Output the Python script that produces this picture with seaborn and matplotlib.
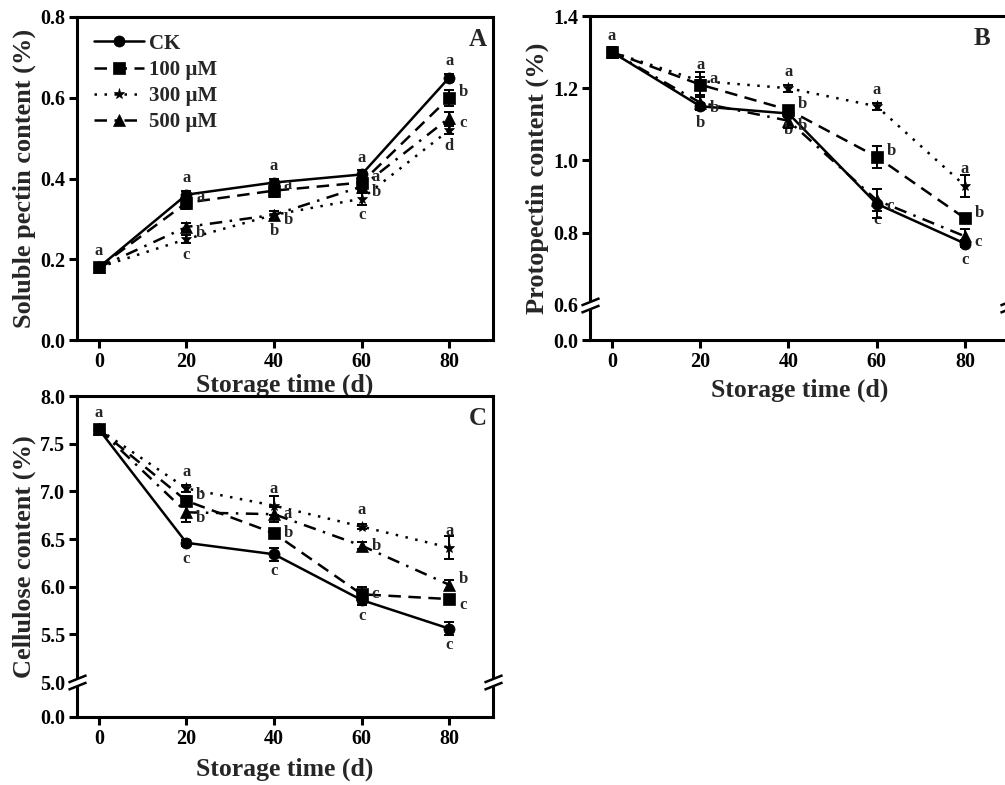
import numpy as np
import pandas as pd
import seaborn as sns
import matplotlib.pyplot as plt
from matplotlib.path import Path

# data (order: CK, 100, 300, 500 uM)
days = [0, 20, 40, 60, 80]
treatments = ['CK', '100 µM', '300 µM', '500 µM']

sol_mean = [[0.18, 0.36, 0.39, 0.41, 0.65],
            [0.18, 0.34, 0.37, 0.39, 0.60],
            [0.18, 0.25, 0.31, 0.35, 0.52],
            [0.18, 0.28, 0.31, 0.38, 0.55]]
sol_err = [[0.01, 0.01, 0.01, 0.01, 0.01],
           [0.01, 0.015, 0.015, 0.015, 0.02],
           [0.01, 0.01, 0.01, 0.015, 0.01],
           [0.01, 0.01, 0.01, 0.01, 0.015]]
sol_letters = [['a', 'a', 'a', 'a', 'a'],
               ['', 'a', 'a', 'a', 'b'],
               ['', 'c', 'b', 'c', 'd'],
               ['', 'b', 'b', 'b', 'c']]

pro_mean = [[1.30, 1.15, 1.13, 0.88, 0.77],
            [1.30, 1.21, 1.14, 1.01, 0.84],
            [1.30, 1.22, 1.20, 1.15, 0.93],
            [1.30, 1.16, 1.11, 0.89, 0.79]]
pro_err = [[0.015, 0.01, 0.01, 0.04, 0.01],
           [0.01, 0.035, 0.01, 0.03, 0.01],
           [0.01, 0.01, 0.01, 0.01, 0.03],
           [0.01, 0.02, 0.02, 0.03, 0.02]]
pro_letters = [['', 'b', 'b', 'c', 'c'],
               ['', 'a', 'b', 'b', 'b'],
               ['a', 'a', 'a', 'a', 'a'],
               ['', 'b', 'b', 'c', 'c']]

cel_mean = [[7.65, 6.46, 6.34, 5.86, 5.56],
            [7.65, 6.90, 6.56, 5.92, 5.87],
            [7.65, 7.03, 6.85, 6.63, 6.41],
            [7.65, 6.78, 6.76, 6.43, 6.02]]
cel_err = [[0.03, 0.03, 0.07, 0.05, 0.07],
           [0.03, 0.05, 0.04, 0.08, 0.03],
           [0.03, 0.04, 0.10, 0.03, 0.12],
           [0.03, 0.10, 0.08, 0.04, 0.05]]
cel_letters = [['', 'c', 'c', 'c', 'c'],
               ['', 'b', 'b', 'c', 'c'],
               ['a', 'a', 'a', 'a', 'a'],
               ['', 'b', 'a', 'b', 'b']]

sns.set_theme(style='ticks')
plt.rcParams['font.family'] = ['Liberation Serif', 'DejaVu Serif']
plt.rcParams['font.weight'] = 'bold'
plt.rcParams['axes.labelweight'] = 'bold'
plt.rcParams['axes.linewidth'] = 2.2
plt.rcParams['xtick.major.width'] = 2.2
plt.rcParams['ytick.major.width'] = 2.2
plt.rcParams['xtick.major.size'] = 5.5
plt.rcParams['ytick.major.size'] = 5.5
plt.rcParams['xtick.labelsize'] = 14.5
plt.rcParams['ytick.labelsize'] = 14.5
plt.rcParams['axes.edgecolor'] = 'black'
plt.rcParams['xtick.color'] = 'black'
plt.rcParams['ytick.color'] = 'black'

markers = {'CK': 'o', '100 µM': 's', '300 µM': '*', '500 µM': '^'}
dashes = {'CK': '', '100 µM': (5, 3), '300 µM': (1, 3), '500 µM': (5, 3, 1, 3)}
W, H = 1005, 785


def long_df(means):
    rows = []
    for t, vals in zip(treatments, means):
        for d, v in zip(days, vals):
            rows.append({'day': d, 'value': v, 'treatment': t})
    return pd.DataFrame(rows)


def broken_scale(ax, brk, gap):
    k = gap / brk
    fwd = lambda y: np.where(y >= brk, y, brk - (brk - y) * k)
    inv = lambda u: np.where(u >= brk, u, brk - (brk - u) / k)
    ax.set_yscale('function', functions=(fwd, inv))


def break_marks(ax, brk, xs=(0, 1)):
    fill = Path([(-1, -0.8), (1, 0.0), (1, 0.8), (-1, 0.0), (-1, -0.8)],
                [Path.MOVETO, Path.LINETO, Path.LINETO, Path.LINETO, Path.CLOSEPOLY])
    lines = Path([(-1, -0.8), (1, 0.0), (-1, 0.0), (1, 0.8)],
                 [Path.MOVETO, Path.LINETO, Path.MOVETO, Path.LINETO])
    tr = ax.get_yaxis_transform()
    for x in xs:
        ax.plot([x], [brk], marker=fill, ms=13, mfc='white', mec='none',
                transform=tr, clip_on=False, zorder=10)
        ax.plot([x], [brk], marker=lines, ms=13, mfc='none', mec='black',
                mew=1.8, transform=tr, clip_on=False, zorder=11)


def panel(rect, means, errs, letters, place, ylabel, tag, xpad, show_legend=False):
    ax = fig.add_axes([rect[0] / W, 1 - rect[3] / H, (rect[2] - rect[0]) / W,
                       (rect[3] - rect[1]) / H])
    sns.lineplot(data=long_df(means), x='day', y='value', hue='treatment',
                 style='treatment', palette=['black'] * 4, markers=markers,
                 dashes=dashes, lw=1.8, markersize=8, markeredgecolor='black',
                 markeredgewidth=0.5, legend=show_legend, ax=ax)
    for m, e in zip(means, errs):
        ax.errorbar(days, m, yerr=e, fmt='none', ecolor='black',
                    elinewidth=1.4, capsize=3.5, capthick=1.4, zorder=5)
    offs = {'up': ((0, 6), 'center', 'bottom'),
            'down': ((0, -6), 'center', 'top'),
            'right': ((7, 0), 'left', 'center'),
            'rup': ((7, 4), 'left', 'center'),
            'rdown': ((7, -4), 'left', 'center')}
    for t, m, lets in zip(treatments, means, letters):
        where = place[t]
        if isinstance(where, str):
            where = [where] * len(days)
        for d, v, s, w in zip(days, m, lets, where):
            if s:
                (dx, dy), ha, va = offs[w]
                ax.annotate(s, (d, v), xytext=(dx, dy), textcoords='offset points',
                            ha=ha, va=va, fontsize=12, fontweight='bold')
    for sp in ax.spines.values():
        sp.set_visible(True)
        sp.set_linewidth(2.2)
    ax.set_xlim(-5, 90)
    ax.set_xticks(days)
    ax.set_xlabel('Storage time (d)', fontsize=18.5, labelpad=xpad)
    ax.set_ylabel(ylabel, fontsize=19, labelpad=3)
    ax.tick_params(axis='both', which='both', top=False, right=False, pad=3)
    ax.text(0.985, 0.93, tag, transform=ax.transAxes, ha='right', va='center',
            fontsize=18, fontweight='bold')
    if show_legend:
        h, l = ax.get_legend_handles_labels()
        ax.legend(h, l, loc='upper left', bbox_to_anchor=(0.0, 1.0), frameon=False,
                  handlelength=2.4, handletextpad=0.25,
                  labelspacing=0.3, borderaxespad=0.4,
                  prop={'weight': 'bold', 'size': 15})
    return ax


fig = plt.figure(figsize=(W / 100, H / 100), dpi=100)

place_a = {'CK': 'up', '100 µM': 'rup', '300 µM': 'down', '500 µM': 'rdown'}
place_b = {'CK': 'down', '100 µM': 'rup', '300 µM': 'up', '500 µM': 'rdown'}
place_c = {'CK': 'down', '300 µM': 'up',
           '100 µM': ['right', 'rup', 'right', 'right', 'rdown'],
           '500 µM': ['right', 'rdown', 'right', 'right', 'rup']}

axA = panel((77, 17, 493, 340), sol_mean, sol_err, sol_letters, place_a,
            'Soluble pectin content (%)', 'A', 1, show_legend=True)
axA.set_ylim(0, 0.8)
axA.set_yticks([0.0, 0.2, 0.4, 0.6, 0.8])
axA.set_yticklabels(['0.0', '0.2', '0.4', '0.6', '0.8'])

axB = panel((590, 16, 1009, 340), pro_mean, pro_err, pro_letters, place_b,
            'Protopectin content (%)', 'B', 5)
broken_scale(axB, 0.6, 0.0972)
axB.set_ylim(0, 1.4)
axB.set_yticks([0.0, 0.6, 0.8, 1.0, 1.2, 1.4])
axB.set_yticklabels(['0.0', '0.6', '0.8', '1.0', '1.2', '1.4'])
axB.texts[-1].set_position((0.955, 0.93))
break_marks(axB, 0.6)

axC = panel((77, 396, 493, 717), cel_mean, cel_err, cel_letters, place_c,
            'Cellulose content (%)', 'C', 6)
broken_scale(axC, 5.0, 0.367)
axC.set_ylim(0, 8.0)
axC.set_yticks([0.0, 5.0, 5.5, 6.0, 6.5, 7.0, 7.5, 8.0])
axC.set_yticklabels(['0.0', '5.0', '5.5', '6.0', '6.5', '7.0', '7.5', '8.0'])
break_marks(axC, 5.0)

fig.savefig('out.png', dpi=100)
